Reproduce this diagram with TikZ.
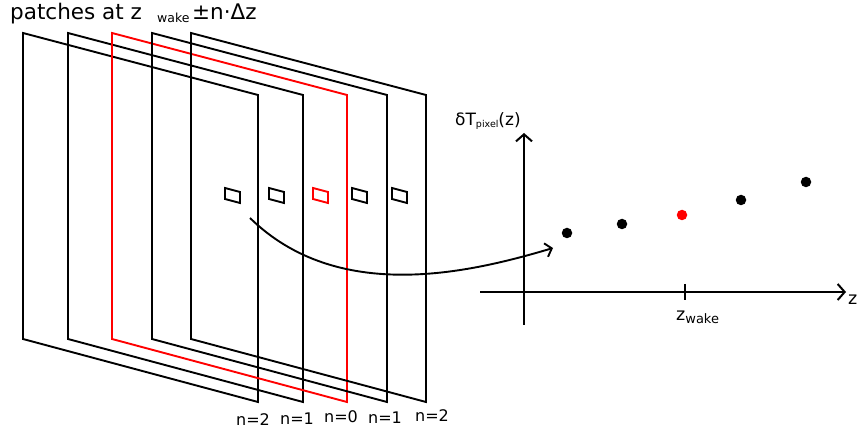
\documentclass[tikz,border=0pt]{standalone}
\usepackage{fontspec}
\setmainfont{DejaVu Sans}
\usetikzlibrary{arrows.meta}
\begin{document}
\begin{tikzpicture}[x=1pt,y=-1pt,
  frame/.style={line width=1.9pt, line join=miter},
  patch/.style={line width=1.9pt},
  axis/.style={line width=2pt},
  barb/.style={-{Straight Barb[length=7pt,width=16pt,line width=2pt]}},
  cbarb/.style={-{Straight Barb[length=6pt,width=14pt,line width=1.9pt]}},
  dot/.style={circle, fill=#1, inner sep=0pt, minimum size=10.5pt},
  dot/.default=black,
  lbl/.style={inner sep=0pt, anchor=base, font=\fontsize{16}{16}\selectfont},
]
\useasboundingbox (0,0) rectangle (857,435);
% planes
\foreach \L/\c in {23/black,68/black,112/red,152/black,191/black} {
  \draw[frame,color=\c] (\L,33) -- (\L+235,95) -- (\L+235,402) -- (\L,339) -- cycle;
}
% patches
\foreach \X/\c in {225/black,269/black,313/red,352/black,392/black} {
  \draw[patch,color=\c] (\X,188) -- ++(15,4) -- ++(0,11) -- ++(-15,-4) -- cycle;
}
% title
\node[inner sep=0pt, anchor=base west, font=\fontsize{21.5}{21.5}\selectfont] (t1) at (10,20) {patches at z};
\node[inner sep=0pt, anchor=base west, font=\fontsize{12.5}{12.5}\selectfont] (t2) at (157,23) {wake};
\node[inner sep=0pt, anchor=base west, font=\fontsize{21.5}{21.5}\selectfont] (t3) at (192,20) {±n·Δz};
% n labels
\node[lbl] (n1) at (253,426) {n=2};
\node[lbl] (n2) at (297,425) {n=1};
\node[lbl] (n3) at (341,423) {n=0};
\node[lbl] (n4) at (385,424) {n=1};
\node[lbl] (n5) at (432,422) {n=2};
% axes
\coordinate (yb) at (524,325);
\coordinate (yt) at (524,133);
\coordinate (xl) at (480,292);
\coordinate (xr) at (846,292);
\draw[axis,barb] (yb) -- (yt);
\draw[axis,barb] (xl) -- (xr);
\coordinate (tk1) at (685,284);
\coordinate (tk2) at (685,300);
\draw[axis] (tk1) -- (tk2);
\node[inner sep=0pt, anchor=base west, font=\fontsize{17}{17}\selectfont] (ylab) at (455,126) {δT{\fontsize{9.5}{9.5}\selectfont\raisebox{-1.5pt}{pixel}}(z)};
\node[inner sep=0pt, anchor=base west, font=\fontsize{17.5}{17.5}\selectfont] (zw) at (676,321) {z{\fontsize{13}{13}\selectfont\raisebox{-3pt}{wake}}};
\node[inner sep=0pt, anchor=west, font=\fontsize{17.5}{17.5}\selectfont] (zlab) at (848,300) {z};
% dots
\node[dot] (d1) at (567,233) {};
\node[dot] (d2) at (622,224) {};
\node[dot=red] (d3) at (682,215) {};
\node[dot] (d4) at (741,200) {};
\node[dot] (d5) at (806,182) {};
% curve
\coordinate (cs) at (250,218);
\coordinate (ce) at (553,248);
\draw[line width=1.9pt, cbarb] (cs) .. controls (338,304) and (469,273) .. (ce);
\end{tikzpicture}
\end{document}
